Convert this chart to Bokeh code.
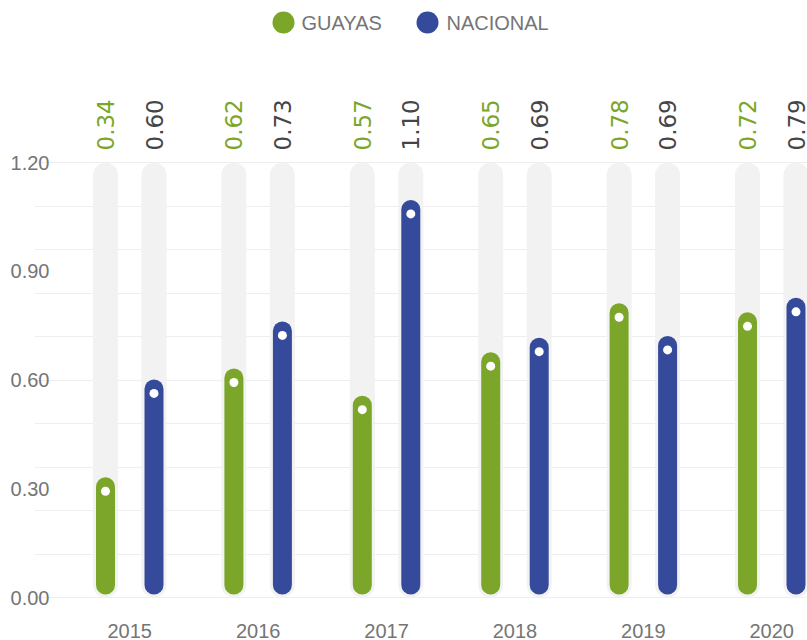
import math
from bokeh.plotting import figure
from bokeh.models import Range1d, FixedTicker, NumeralTickFormatter, ColumnDataSource
from bokeh.core.properties import value
from bokeh.embed import file_html
from bokeh.resources import INLINE

# ---------------- data ----------------
years = ["2015", "2016", "2017", "2018", "2019", "2020"]
series = ["GUAYAS", "NACIONAL"]
# values printed above the bars
guayas_labels = [0.34, 0.62, 0.57, 0.65, 0.78, 0.72]
nacional_labels = [0.60, 0.73, 1.10, 0.69, 0.69, 0.79]
# bar heights as drawn in the picture
guayas_bars = [0.34, 0.64, 0.565, 0.685, 0.82, 0.795]
nacional_bars = [0.61, 0.77, 1.105, 0.725, 0.73, 0.835]
y_ticks = [0.0, 0.3, 0.6, 0.9, 1.2]
grid_ticks = [0.0, 0.12, 0.24, 0.36, 0.48, 0.60, 0.72, 0.84, 0.96, 1.08, 1.2]

# ---------------- style ----------------
GREEN = "#7BA62A"
BLUE = "#364A9C"
TRACK = "#F2F2F2"
GRID = "#EEEEEE"
AXIS_TXT = "#757575"
DARK_TXT = "#454545"

W, H = 807, 640
BORDER_L, BORDER_B = 34, 40
FRAME_W, FRAME_H = W - BORDER_L, H - BORDER_B
XU = 128.4     # px per group
YU = 362.5     # px per unit value
X0_PX = 95.25  # px from frame left to first group centre
Y0_PX = 3.0    # px from frame bottom to value 0

x_start = -X0_PX / XU
y_start = -Y0_PX / YU
x_range = Range1d(x_start, x_start + FRAME_W / XU)
y_range = Range1d(y_start, y_start + FRAME_H / YU)

p = figure(width=W, height=H, x_range=x_range, y_range=y_range,
           output_backend="svg", toolbar_location=None,
           min_border_left=BORDER_L, min_border_right=0,
           min_border_top=0, min_border_bottom=BORDER_B)
p.outline_line_color = None
p.background_fill_color = "white"
p.border_fill_color = "white"

# axes
p.yaxis.ticker = FixedTicker(ticks=y_ticks)
p.yaxis.formatter = NumeralTickFormatter(format="0.00")
p.yaxis.axis_line_color = None
p.yaxis.major_tick_line_color = None
p.yaxis.minor_tick_line_color = None
p.yaxis.major_label_standoff = -21
p.yaxis.major_label_text_font = "Liberation Sans"
p.yaxis.major_label_text_font_size = "20px"
p.yaxis.major_label_text_color = AXIS_TXT

p.xaxis.ticker = FixedTicker(ticks=list(range(len(years))))
p.xaxis.major_label_overrides = {i: y for i, y in enumerate(years)}
p.xaxis.axis_line_color = None
p.xaxis.major_tick_line_color = None
p.xaxis.minor_tick_line_color = None
p.xaxis.major_label_standoff = 17
p.xaxis.major_label_text_font = "Liberation Sans"
p.xaxis.major_label_text_font_size = "20px"
p.xaxis.major_label_text_color = AXIS_TXT

p.xgrid.grid_line_color = None
p.ygrid.ticker = FixedTicker(ticks=grid_ticks)
p.ygrid.grid_line_color = GRID
p.ygrid.grid_line_width = 1

# geometry helpers (screen px -> data)
DODGE = 24.25 / XU
TRACK_W, BAR_W = 25, 19
INSET = TRACK_W / 2 / YU
DOT_OFF = 17 / YU
LABEL_GAP = 12 / YU
top_val = y_ticks[-1]

for bars, labels, col, lcol, off in [
        (guayas_bars, guayas_labels, GREEN, GREEN, -DODGE),
        (nacional_bars, nacional_labels, BLUE, DARK_TXT, DODGE)]:
    xs = [i + off for i in range(len(years))]
    src = ColumnDataSource(dict(
        x=xs,
        t0=[INSET] * len(xs),
        t1=[top_val - INSET] * len(xs),
        b1=[v - INSET for v in bars],
        dot=[v - DOT_OFF for v in bars],
        ly=[top_val + LABEL_GAP] * len(xs),
        txt=["%.2f" % v for v in labels],
    ))
    p.segment(x0="x", y0="t0", x1="x", y1="t1", source=src,
              line_color=TRACK, line_width=TRACK_W, line_cap="round")
    p.segment(x0="x", y0="t0", x1="x", y1="b1", source=src,
              line_color=col, line_width=BAR_W, line_cap="round")
    p.scatter(x="x", y="dot", source=src, size=9, fill_color="white",
              line_color=None)
    p.text(x="x", y="ly", text="txt", source=src, angle=math.pi / 2,
           text_align="left", text_baseline="middle",
           text_font=value("DejaVu Sans"), text_font_size="23px",
           text_color=lcol)

# legend (drawn by hand: circle + label)
def px_x(px):
    return (px - BORDER_L - X0_PX) / XU

def px_y(py):
    return (FRAME_H - Y0_PX - py) / YU

leg_circle_px = [283, 427]
leg_text_px = [301, 446]
leg_y = px_y(22)
p.scatter(x=[px_x(v) for v in leg_circle_px], y=[leg_y, leg_y], size=22,
          fill_color=[GREEN, BLUE], line_color=None)
p.text(x=[px_x(v) for v in leg_text_px], y=[leg_y, leg_y], text=series,
       text_align="left", text_baseline="middle",
       text_font=value("Liberation Sans"), text_font_size="20px",
       text_color=AXIS_TXT)

open("out.html", "w").write(file_html(p, INLINE))
